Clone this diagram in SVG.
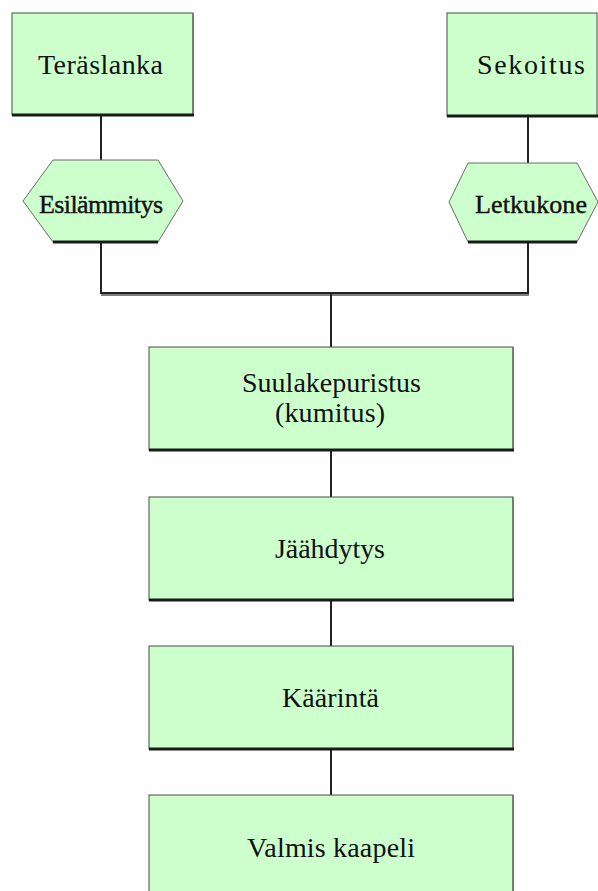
<svg xmlns="http://www.w3.org/2000/svg" width="598" height="891" viewBox="0 0 598 891">
<style>
.box{fill:#CCFFCC;stroke:#4a4a4a;stroke-width:1}
.bot{stroke:#1a1a1a;stroke-width:3;fill:none}
.rgt{stroke:#6f826f;stroke-width:2;fill:none}
.hex{fill:#CCFFCC;stroke:#6a6a6a;stroke-width:1}
.con{stroke:#222;stroke-width:2;fill:none}
.t{font-family:"Liberation Serif","Times New Roman",serif;font-size:28px;fill:#111;text-anchor:middle}
.h{font-family:"Liberation Serif","Times New Roman",serif;font-size:26px;fill:#111;stroke:#111;stroke-width:0.4;text-anchor:middle}
</style>
<rect width="598" height="891" fill="#fff"/>
<g id="connectors">
<line class="con" x1="101" y1="115" x2="101" y2="160"/>
<line class="con" x1="101" y1="242" x2="101" y2="294"/>
<line class="con" x1="528" y1="116" x2="528" y2="163"/>
<line class="con" x1="528" y1="242" x2="528" y2="294"/>
<line x1="101" y1="295" x2="529" y2="295" stroke="#808080" stroke-width="2"/>
<line class="con" x1="100" y1="293" x2="529" y2="293"/>
<line class="con" x1="331" y1="294" x2="331" y2="347"/>
<line class="con" x1="331" y1="450" x2="331" y2="497"/>
<line class="con" x1="331" y1="600" x2="331" y2="646"/>
<line class="con" x1="331" y1="749" x2="331" y2="795"/>
</g>
<g id="teraslanka">
<rect class="box" x="12" y="13" width="181" height="102"/>
<line class="rgt" x1="193" y1="13" x2="193" y2="115"/>
<line class="bot" x1="12" y1="115" x2="194" y2="115"/>
<text class="t" x="100.5" y="74" textLength="125" lengthAdjust="spacing">Teräslanka</text>
</g>
<g id="sekoitus">
<rect class="box" x="447" y="13" width="150" height="103"/>
<line class="bot" x1="447" y1="116" x2="598" y2="116"/>
<text class="t" x="531" y="74" textLength="108" lengthAdjust="spacing">Sekoitus</text>
</g>
<g id="esilammitys">
<polygon class="hex" points="23,201 53,160 158,160 183,201 158,242 53,242"/>
<line class="bot" x1="53" y1="242" x2="158" y2="242" stroke-width="2"/>
<text class="h" x="101" y="213" textLength="124" lengthAdjust="spacing">Esilämmitys</text>
</g>
<g id="letkukone">
<polygon class="hex" points="449,202 468,163 577,163 598,202 577,242 468,242"/>
<line class="bot" x1="468" y1="242" x2="577" y2="242" stroke-width="2"/>
<text class="h" x="531" y="213" textLength="112" lengthAdjust="spacing">Letkukone</text>
</g>
<g id="suulakepuristus">
<rect class="box" x="149" y="347" width="364" height="103"/>
<line class="rgt" x1="513" y1="347" x2="513" y2="450"/>
<line class="bot" x1="149" y1="450" x2="514" y2="450"/>
<text class="t" x="331.5" y="392" textLength="179" lengthAdjust="spacing">Suulakepuristus</text>
<text class="t" x="330" y="422" textLength="110" lengthAdjust="spacing">(kumitus)</text>
</g>
<g id="jaahdytys">
<rect class="box" x="149" y="497" width="364" height="103"/>
<line class="rgt" x1="513" y1="497" x2="513" y2="600"/>
<line class="bot" x1="149" y1="600" x2="514" y2="600"/>
<text class="t" x="330" y="558" textLength="110" lengthAdjust="spacing">Jäähdytys</text>
</g>
<g id="kaarinta">
<rect class="box" x="149" y="646" width="364" height="103"/>
<line class="rgt" x1="513" y1="646" x2="513" y2="749"/>
<line class="bot" x1="149" y1="749" x2="514" y2="749"/>
<text class="t" x="330.5" y="707" textLength="97" lengthAdjust="spacing">Käärintä</text>
</g>
<g id="valmis">
<rect class="box" x="149" y="795" width="364" height="103"/>
<line class="rgt" x1="513" y1="795" x2="513" y2="898"/>
<text class="t" x="331" y="857" textLength="168" lengthAdjust="spacing">Valmis kaapeli</text>
</g>
</svg>
